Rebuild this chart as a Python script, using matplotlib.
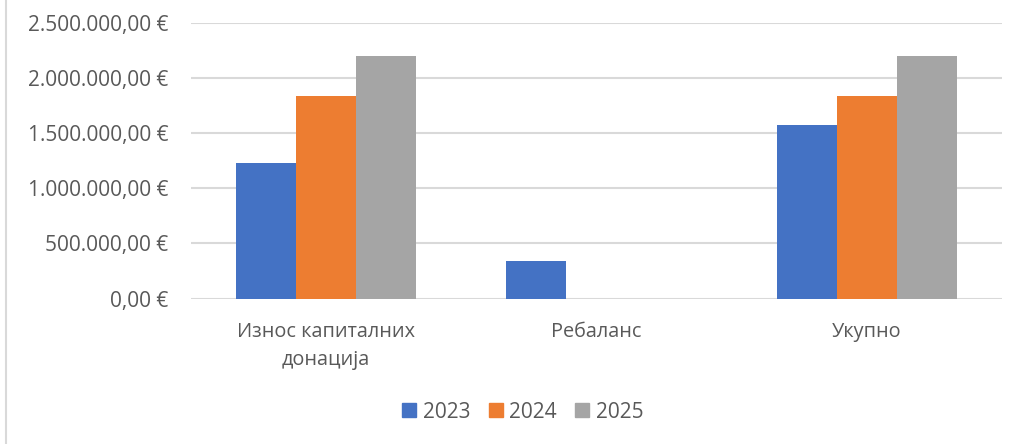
import matplotlib
matplotlib.use("Agg")
import matplotlib.pyplot as plt
import numpy as np
from matplotlib.ticker import FuncFormatter
from matplotlib.lines import Line2D

categories = ["Износ капиталних\nдонација", "Ребаланс", "Укупно"]
series_names = ["2023", "2024", "2025"]
values_2023 = [1230000, 336000, 1570000]
values_2024 = [1838000, 0, 1838000]
values_2025 = [2201000, 0, 2201000]
colors = ["#4472C4", "#ED7D31", "#A5A5A5"]
y_ticks = [0, 500000, 1000000, 1500000, 2000000, 2500000]

plt.rcParams['font.family'] = ['Open Sans', 'DejaVu Sans']
text_color = "#595959"

fig = plt.figure(figsize=(10.19, 4.44), dpi=100)
ax = fig.add_axes([0.187, 0.3277, 0.9833 - 0.187, 0.9489 - 0.3277])

x = np.arange(len(categories))
w = 0.222
all_vals = [values_2023, values_2024, values_2025]
for i, (name, vals) in enumerate(zip(series_names, all_vals)):
    ax.bar(x + (i - 1) * w, vals, width=w, color=colors[i], label=name, zorder=3)

ax.set_xlim(-0.5, len(categories) - 0.5)
ax.set_ylim(0, 2500000)
ax.set_yticks(y_ticks)

def fmt(v, pos):
    s = f"{v:,.2f}".replace(",", "X").replace(".", ",").replace("X", ".")
    return s + " €"

ax.yaxis.set_major_formatter(FuncFormatter(fmt))
ax.grid(axis='y', color="#D9D9D9", linewidth=1.5, zorder=0)
for sp in ax.spines.values():
    sp.set_visible(False)
ax.tick_params(axis='both', length=0, colors=text_color)
ax.tick_params(axis='y', pad=16, labelsize=15)
ax.tick_params(axis='x', pad=17, labelsize=14.3)
ax.set_xticks(x)
ax.set_xticklabels(categories, linespacing=1.55)

handles = [plt.Rectangle((0, 0), 1, 1, color=c) for c in colors]
leg = fig.legend(handles, series_names, loc='center', bbox_to_anchor=(0.513, 0.072),
                 ncol=3, frameon=False, fontsize=15, handlelength=0.67, handleheight=0.67,
                 handletextpad=0.3, columnspacing=0.9)
for t in leg.get_texts():
    t.set_color(text_color)

fig.add_artist(Line2D([0.0055, 0.0055], [0, 1], transform=fig.transFigure, color="#D9D9D9", linewidth=1.5))

fig.savefig("out.png", dpi=100)
